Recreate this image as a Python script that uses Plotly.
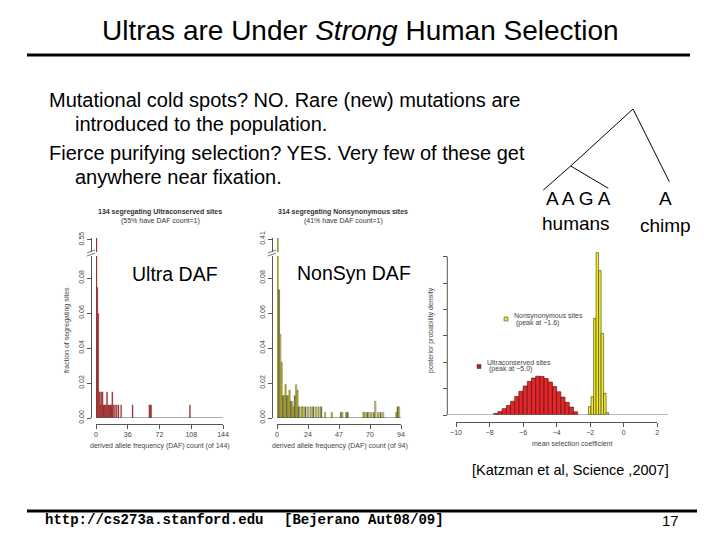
import plotly.graph_objects as go

W, H = 720, 540
PAGE_OFFSET = 8  # the page body margin shifts the figure by this many pixels


def fx(x):
    # pixel -> paper x
    return (x - PAGE_OFFSET) / W


def fy(y):
    # pixel -> paper y
    return 1 - (y - PAGE_OFFSET) / H


# DAF histograms: number of segregating sites at each derived allele count
ultra_total = 134
ultra_counts = [1, 2, 3, 4, 5, 6, 7, 8, 9, 10, 11, 12, 13, 14, 15, 16, 17, 18,
                19, 20, 22, 24, 26, 29, 42, 61, 62, 63, 107]
ultra_sites = [74, 10, 8, 2, 2, 1, 2, 2, 1, 1, 1, 1, 2, 1, 1, 1, 1, 1,
               2, 1, 1, 1, 1, 1, 1, 1, 1, 1, 1]

nonsyn_total = 314
nonsyn_counts = [1, 2, 3, 4, 5, 6, 7, 8, 9, 10, 11, 12, 13, 14, 15, 16, 17, 19,
                 20, 22, 24, 26, 28, 30, 32, 34, 37, 42, 49, 50, 53, 54, 66, 67,
                 69, 70, 72, 74, 75, 77, 79, 81, 91, 92, 93]
nonsyn_sites = [129, 23, 15, 10, 4, 4, 6, 4, 4, 5, 3, 3, 2, 4, 6, 5, 2, 2,
                2, 2, 2, 2, 2, 2, 2, 2, 1, 1, 1, 1, 1, 1, 1, 1,
                1, 1, 1, 1, 3, 1, 1, 1, 1, 2, 2]

# posterior of the mean selection coefficient (bin centres, density)
sel_ultra_x = [-7.625, -7.375, -7.125, -6.875, -6.625, -6.375, -6.125, -5.875,
               -5.625, -5.375, -5.125, -4.875, -4.625, -4.375, -4.125, -3.875,
               -3.625, -3.375, -3.125, -2.875]
sel_ultra_density = [0.06, 0.13, 0.24, 0.36, 0.52, 0.70, 0.90, 1.10,
                     1.27, 1.40, 1.47, 1.46, 1.38, 1.25, 1.08, 0.88,
                     0.68, 0.48, 0.30, 0.12]
sel_nonsyn_x = [-2.025, -1.875, -1.725, -1.575, -1.425, -1.275, -1.125, -0.975]
sel_nonsyn_density = [0.32, 0.69, 3.66, 6.15, 5.47, 3.09, 0.82, 0.09]

ultra_ticks = [0, 36, 72, 108, 144]
nonsyn_tickvals = [0, 23.5, 47, 70.5, 94]
nonsyn_ticktext = ['0', '24', '47', '70', '94']
sel_ticks = [-10, -8, -6, -4, -2, 0, 2]
sel_ticktext = ['\u221210', '\u22128', '\u22126', '\u22124', '\u22122', '0', '2']
sel_yticks = [0, 1, 2, 3, 4, 5, 6]
daf_yticks = [0, 0.02, 0.04, 0.06, 0.08]

FONT = 'Liberation Sans'
small = dict(family=FONT, size=7, color='#444')

fig = go.Figure()

# Ultra DAF, drawn on the lower and upper (broken) y axes
ultra_frac = [s / ultra_total for s in ultra_sites]
ultra_colors = ['#5e181c' if i % 2 == 0 else '#832629' for i in range(len(ultra_counts))]
for ya in ['y', 'y2']:
    fig.add_trace(go.Bar(
        x=[c - 0.5 for c in ultra_counts], y=ultra_frac, width=1,
        marker=dict(color=ultra_colors, line=dict(color='#b83434', width=0.4)),
        xaxis='x', yaxis=ya))

# NonSyn DAF
nonsyn_frac = [s / nonsyn_total for s in nonsyn_sites]
pal = ['#c8c21e', '#77702f', '#d6cf78']
nonsyn_colors = [pal[i % 3] for i in range(len(nonsyn_counts))]
for ya in ['y3', 'y4']:
    fig.add_trace(go.Bar(
        x=[c - 0.5 for c in nonsyn_counts], y=nonsyn_frac, width=1,
        marker=dict(color=nonsyn_colors, line=dict(color='#4a4a18', width=0.4)),
        xaxis='x2', yaxis=ya))

# selection coefficient posteriors
fig.add_trace(go.Bar(
    x=sel_ultra_x, y=sel_ultra_density, width=0.25,
    marker=dict(color='#e4262b', line=dict(color='#4a0c0c', width=0.6)),
    xaxis='x3', yaxis='y5'))
fig.add_trace(go.Bar(
    x=sel_nonsyn_x, y=sel_nonsyn_density, width=0.15,
    marker=dict(color='#f2ea2a', line=dict(color='#3a3a10', width=0.6)),
    xaxis='x3', yaxis='y5'))

ax = dict(showgrid=False, zeroline=False, showline=True, linecolor='#555',
          linewidth=1, ticks='outside', ticklen=4, tickcolor='#555',
          tickfont=small, anchor='free', automargin=False)

fig.update_layout(
    template='none',
    width=W, height=H, autosize=False, margin=dict(l=0, r=0, t=0, b=0, pad=0),
    paper_bgcolor='white', plot_bgcolor='white', showlegend=False,
    barmode='overlay', font=dict(family=FONT, color='black'),
    xaxis=dict(domain=[fx(96), fx(223)], range=[0, 144], position=fy(424),
               tickvals=ultra_ticks, **ax),
    yaxis=dict(domain=[fy(418), fy(256)], range=[0, 0.0926], position=fx(91),
               tickvals=daf_yticks, tickformat='.2f', tickangle=-90, **ax),
    yaxis2=dict(domain=[fy(252), fy(238)], range=[0.535, 0.552], position=fx(91),
                tickvals=[0.55], tickformat='.2f', tickangle=-90, **ax),
    xaxis2=dict(domain=[fx(277), fx(401)], range=[0, 94], position=fy(424),
                tickvals=nonsyn_tickvals, ticktext=nonsyn_ticktext, **ax),
    yaxis3=dict(domain=[fy(418), fy(256)], range=[0, 0.0926], position=fx(272),
                tickvals=daf_yticks, tickformat='.2f', tickangle=-90, **ax),
    yaxis4=dict(domain=[fy(252), fy(238)], range=[0.398, 0.411], position=fx(272),
                tickvals=[0.41], tickformat='.2f', tickangle=-90, **ax),
    xaxis3=dict(domain=[fx(456), fx(657.3)], range=[-10, 2], position=fy(421.7),
                tickvals=sel_ticks, ticktext=sel_ticktext, **ax),
    yaxis5=dict(domain=[fy(415), fy(250)], range=[0, 6.25], position=fx(447.3),
                tickvals=sel_yticks, showticklabels=False,
                **{**ax, 'showline': False}),
)

shapes = []
# baselines of the DAF histograms
for xr, yr, xmax in [('x', 'y', 144), ('x2', 'y3', 94)]:
    shapes.append(dict(type='line', xref=xr, yref=yr, x0=0, x1=xmax, y0=0, y1=0,
                       line=dict(color='#555', width=1)))
# y axis line and baseline of the posterior plot
shapes.append(dict(type='line', xref='paper', yref='y5', x0=fx(447.3), x1=fx(447.3),
                   y0=0, y1=6, line=dict(color='#555', width=1)))
shapes.append(dict(type='line', xref='paper', yref='y5', x0=fx(447.3), x1=fx(668),
                   y0=0, y1=0, line=dict(color='#777', width=1)))
# axis break marks
for bx in [91, 272]:
    shapes.append(dict(type='rect', xref='paper', yref='paper', x0=fx(bx - 5), x1=fx(bx + 8),
                       y0=fy(255.5), y1=fy(252.5), fillcolor='white', line=dict(width=0)))
    for dy in [0, 3]:
        shapes.append(dict(type='line', xref='paper', yref='paper',
                           x0=fx(bx - 4), y0=fy(256 - dy), x1=fx(bx + 4), y1=fy(253 - dy),
                           line=dict(color='#555', width=0.8)))
# slide rules
shapes.append(dict(type='line', xref='paper', yref='paper', x0=fx(27), x1=fx(690),
                   y0=fy(55), y1=fy(55), line=dict(color='black', width=3)))
shapes.append(dict(type='line', xref='paper', yref='paper', x0=fx(27), x1=fx(697),
                   y0=fy(511), y1=fy(511), line=dict(color='black', width=3)))
# phylogeny
for (x0, y0, x1, y1) in [(633, 109, 570.7, 166), (570.7, 166, 543.3, 190),
                         (570.7, 166, 608.3, 188.3), (633, 109, 669.3, 181.7)]:
    shapes.append(dict(type='line', xref='paper', yref='paper', x0=fx(x0), y0=fy(y0),
                       x1=fx(x1), y1=fy(y1), line=dict(color='black', width=1)))
# legend keys of the posterior plot
for (kx, ky, col) in [(506, 319, '#e8e030'), (479, 366.5, '#b02020')]:
    shapes.append(dict(type='rect', xref='paper', yref='paper', x0=fx(kx - 2), x1=fx(kx + 2),
                       y0=fy(ky + 2), y1=fy(ky - 2), fillcolor=col,
                       line=dict(color='#333', width=0.5)))
fig.update_layout(shapes=shapes)


def txt(x, y, s, size, xanchor='center', family=FONT, color='black', angle=0):
    fig.add_annotation(x=fx(x), y=fy(y), xref='paper', yref='paper', text=s,
                       showarrow=False, xanchor=xanchor, yanchor='middle',
                       textangle=angle, font=dict(family=family, size=size, color=color))


txt(360, 30, 'Ultras are Under <i>Strong</i> Human Selection', 28)
txt(47, 100, 'Mutational cold spots? NO. Rare (new) mutations are', 20, 'left')
txt(73, 124, 'introduced to the population.', 20, 'left')
txt(47, 153, 'Fierce purifying selection? YES. Very few of these get', 20, 'left')
txt(73, 177, 'anywhere near fixation.', 20, 'left')

txt(578, 199, 'A A G A', 19)
txt(576, 223, 'humans', 19)
txt(665, 199, 'A', 19)
txt(665, 225, 'chimp', 19)

txt(160, 212, '<b>134 segregating Ultraconserved sites</b>', 7, color='#333')
txt(160, 221, '(55% have DAF count=1)', 7, color='#333')
txt(67, 330, 'fraction of segregating sites', 7, color='#444', angle=-90)
txt(160, 446, 'derived allele frequency (DAF) count (of 144)', 7, color='#444')
txt(175, 274, 'Ultra DAF', 19.5)

txt(343, 212, '<b>314 segregating Nonsynonymous sites</b>', 7, color='#333')
txt(343, 221, '(41% have DAF count=1)', 7, color='#333')
txt(340, 446, 'derived allele frequency (DAF) count (of 94)', 7, color='#444')
txt(354, 273, 'NonSyn DAF', 19.5)

txt(431, 330, 'posterior probability density', 7, color='#444', angle=-90)
txt(572, 443, 'mean selection coefficient', 7, color='#444')
txt(512, 316, 'Nonsynonymous sites', 7, 'left', color='#444')
txt(514, 323, '(peak at \u22121.6)', 7, 'left', color='#444')
txt(485, 362, 'Ultraconserved sites', 7, 'left', color='#444')
txt(487, 369, '(peak at \u22125.0)', 7, 'left', color='#444')

txt(570, 470, '[Katzman et al, Science ,2007]', 14.5)
txt(43, 520, '<b>http://cs273a.stanford.edu</b>', 14, 'left', family='Liberation Mono')
txt(282, 520, '<b>[Bejerano Aut08/09]</b>', 14, 'left', family='Liberation Mono')
txt(670, 520, '17', 15)

fig.write_html("out.html")
